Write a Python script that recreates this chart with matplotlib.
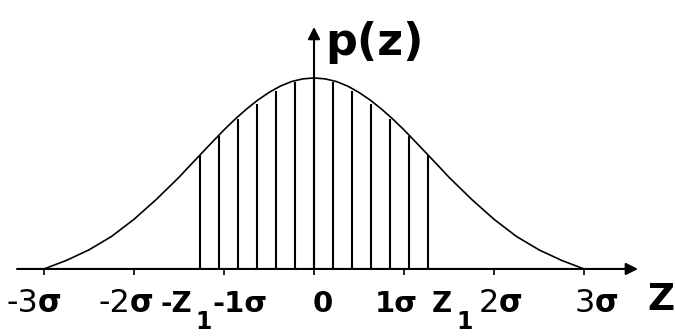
import matplotlib
matplotlib.use("Agg")
import matplotlib.pyplot as plt

# Normal-like density p(z) in sigma units (peak = 1)
curve_z = [-3.0, -2.75, -2.5, -2.25, -2.0, -1.75, -1.5, -1.375, -1.25, -1.125, -1.0,
           -0.875, -0.75, -0.625, -0.5, -0.375, -0.25, -0.125,
           0.0, 0.125, 0.25, 0.375, 0.5, 0.625, 0.75, 0.875,
           1.0, 1.125, 1.25, 1.375, 1.5, 1.75, 2.0, 2.25, 2.5, 2.75, 3.0]
curve_p = [0.0, 0.045, 0.10, 0.17, 0.26, 0.365, 0.48, 0.543, 0.605, 0.667, 0.728,
           0.785, 0.837, 0.884, 0.924, 0.957, 0.981, 0.995,
           1.0, 0.995, 0.981, 0.957, 0.924, 0.884, 0.837, 0.785,
           0.728, 0.667, 0.605, 0.543, 0.48, 0.365, 0.26, 0.17, 0.10, 0.045, 0.0]

# Vertical hatching between -z1 and z1 (z1 ~ 1.27 sigma)
hatch_z = [-1.27, -1.058, -0.847, -0.635, -0.423, -0.212, 0.0,
           0.212, 0.423, 0.635, 0.847, 1.058, 1.27]
hatch_p = [0.598, 0.694, 0.785, 0.864, 0.930, 0.977, 1.0,
           0.977, 0.930, 0.864, 0.785, 0.694, 0.598]

tick_z = [-3, -2, -1, 0, 1, 2, 3]

fig = plt.figure(figsize=(6.75, 3.36), dpi=100)
ax = fig.add_axes([0, 0, 1, 1])
ax.set_xlim(-3.489, 4.011)
ax.set_ylim(-0.351, 1.408)
ax.axis("off")

# hatching
ax.vlines(hatch_z, 0, hatch_p, colors="black", lw=1.5)

# density curve
ax.plot(curve_z, curve_p, color="black", lw=1.2)

# axes with arrows
arrow = dict(arrowstyle="-|>,head_length=0.6,head_width=0.3",
             color="black", lw=1.5, mutation_scale=12, shrinkA=0, shrinkB=0)
ax.annotate("", xy=(3.6, 0), xytext=(-3.3, 0), arrowprops=arrow)
ax.annotate("", xy=(0, 1.267), xytext=(0, 0), arrowprops=arrow)

# sigma ticks
ax.vlines(tick_z, -0.031, 0, colors="black", lw=1.2)

base = -0.225
sub = -0.315
norm = dict(fontsize=23, fontweight="normal", va="baseline")
sig = dict(fontsize=22, fontweight="bold", va="baseline")
bold = dict(fontsize=21, fontweight="bold", va="baseline")

# -3σ, -2σ, 2σ, 3σ: plain digits, bold sigma
for x, d in [(-3.067, "-3"), (-2.044, "-2"), (2.056, "2"), (3.122, "3")]:
    ax.text(x, base, d, ha="right", **norm)
    ax.text(x, base, "σ", ha="left", **sig)

ax.text(-1.133, base, "-1σ", ha="left", **bold)
ax.text(-0.011, base, "0", ha="left", **bold)
ax.text(0.678, base, "1σ", ha="left", **bold)

# -z1 and z1
ax.text(-1.711, base, "-Z", ha="left", fontsize=20, fontweight="bold", va="baseline")
ax.text(-1.32, sub, "1", ha="left", fontsize=17, fontweight="bold", va="baseline")
ax.text(1.311, base, "Z", ha="left", fontsize=20, fontweight="bold", va="baseline")
ax.text(1.58, sub, "1", ha="left", fontsize=17, fontweight="bold", va="baseline")

# axis titles
ax.text(3.7, -0.215, "Z", ha="left", va="baseline", fontsize=27, fontweight="bold")
ax.text(0.122, 1.12, "p(z)", ha="left", va="baseline", fontsize=32, fontweight="bold")

fig.savefig("out.png", dpi=100, facecolor="white")
